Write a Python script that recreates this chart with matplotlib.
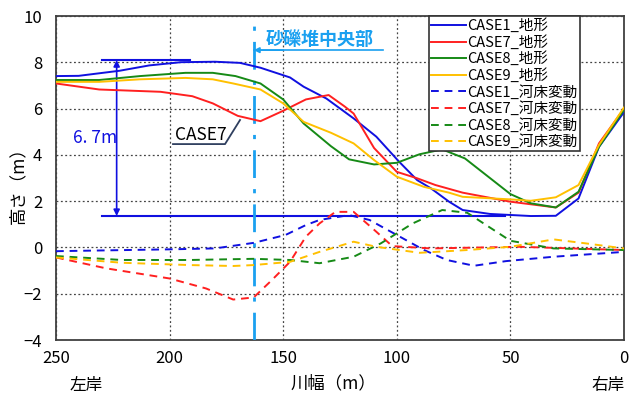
import matplotlib
matplotlib.use("Agg")
import matplotlib.pyplot as plt

plt.rcParams['font.family'] = ['Noto Sans CJK JP', 'DejaVu Sans']

# ---- data ----
c1_x = [250, 240, 222, 209, 195, 180, 169, 160, 147, 141, 131, 119, 109, 99, 91, 85, 77, 71, 59, 41, 30, 20, 11, 0]
c1_y = [7.41, 7.42, 7.64, 7.87, 8.01, 8.03, 7.98, 7.77, 7.35, 6.95, 6.44, 5.58, 4.79, 3.71, 2.91, 2.56, 1.98, 1.62, 1.45, 1.36, 1.37, 2.12, 4.35, 5.85]

c7_x = [250, 231, 204, 190, 181, 170, 160, 150, 140, 130, 123, 119, 110, 100, 91, 83, 71, 50, 30, 20, 11, 0]
c7_y = [7.09, 6.83, 6.73, 6.54, 6.23, 5.69, 5.46, 5.91, 6.40, 6.59, 6.10, 5.79, 4.30, 3.27, 2.99, 2.70, 2.37, 1.98, 1.73, 2.37, 4.50, 6.00]

c8_x = [250, 231, 213, 193, 181, 171, 160, 150, 141, 129, 121, 110, 100, 90, 80, 70, 50, 41, 30, 20, 11, 0]
c8_y = [7.24, 7.24, 7.41, 7.55, 7.55, 7.41, 7.09, 6.40, 5.36, 4.38, 3.81, 3.59, 3.66, 4.03, 4.24, 3.85, 2.31, 1.91, 1.73, 2.41, 4.35, 5.95]

c9_x = [250, 231, 213, 193, 181, 172, 160, 150, 141, 129, 119, 110, 100, 88, 77, 71, 50, 41, 30, 20, 11, 0]
c9_y = [7.16, 7.16, 7.27, 7.33, 7.27, 7.09, 6.83, 6.23, 5.43, 4.96, 4.50, 3.78, 3.06, 2.62, 2.37, 2.19, 2.08, 2.02, 2.17, 2.70, 4.43, 6.05]

d1_x = [250, 200, 180, 163, 149, 140, 134, 121, 112, 100, 88, 78, 66, 52, 31, 0]
d1_y = [-0.16, -0.08, -0.04, 0.20, 0.54, 0.97, 1.19, 1.40, 1.19, 0.54, -0.11, -0.54, -0.79, -0.59, -0.40, -0.19]

d7_x = [250, 228, 200, 184, 172, 163, 155, 147, 140, 134, 127, 119, 109, 102, 85, 46, 0]
d7_y = [-0.43, -0.90, -1.34, -1.77, -2.25, -2.16, -1.41, -0.62, 0.47, 1.04, 1.54, 1.54, 0.68, 0.06, -0.04, 0.03, -0.11]

d8_x = [250, 221, 191, 163, 147, 134, 119, 107, 93, 80, 69, 50, 31, 0]
d8_y = [-0.37, -0.54, -0.54, -0.49, -0.54, -0.68, -0.40, 0.18, 1.04, 1.62, 1.50, 0.29, -0.04, -0.11]

d9_x = [250, 221, 191, 172, 163, 147, 134, 119, 109, 90, 69, 50, 31, 17, 0]
d9_y = [-0.43, -0.66, -0.76, -0.80, -0.76, -0.62, -0.19, 0.25, 0.03, -0.23, -0.11, 0.03, 0.35, 0.18, -0.04]

labels_terrain = ['CASE1_地形', 'CASE7_地形', 'CASE8_地形', 'CASE9_地形']
labels_change = ['CASE1_河床変動', 'CASE7_河床変動', 'CASE8_河床変動', 'CASE9_河床変動']
colors = ['#1010E0', '#FF2020', '#168A16', '#FFC000']

x_ticks = [250, 200, 150, 100, 50, 0]
y_ticks = [-4, -2, 0, 2, 4, 6, 8, 10]
y_tick_labels = ['\u22124', '\u22122', '0', '2', '4', '6', '8', '10']

center_x = 163
top_ref = 8.1
bot_ref = 1.36

# ---- figure ----
fig = plt.figure(figsize=(6.32, 3.94), dpi=100)
ax = fig.add_axes([0.0886, 0.137, 0.8987, 0.822])

terrain = [(c1_x, c1_y), (c7_x, c7_y), (c8_x, c8_y), (c9_x, c9_y)]
change = [(d1_x, d1_y), (d7_x, d7_y), (d8_x, d8_y), (d9_x, d9_y)]

# reference lines (behind)
ax.plot([229.8, 191.0], [top_ref, top_ref], color='#1010E0', lw=1.5, zorder=2)
ax.plot([229.8, 52.4], [bot_ref, bot_ref], color='#1010E0', lw=1.5, zorder=2)
ax.annotate('', xy=(223.3, top_ref), xytext=(223.3, bot_ref),
            arrowprops=dict(arrowstyle='<|-|>', color='#1010E0', lw=1.2,
                            mutation_scale=9, shrinkA=0, shrinkB=0), zorder=3)
ax.text(223.0, 4.75, '6. 7m', color='#1010E0', fontsize=12.5, ha='right', va='center')

handles = []
for (xs, ys), c, lab in zip(terrain, colors, labels_terrain):
    h, = ax.plot(xs, ys, color=c, lw=1.4, label=lab, zorder=4)
    handles.append(h)
for (xs, ys), c, lab in zip(change, colors, labels_change):
    h, = ax.plot(xs, ys, color=c, lw=1.4, ls=(0, (4, 3)), label=lab, zorder=4)
    handles.append(h)

# centre dash-dot line
ax.axvline(center_x, color='#1AA0F0', lw=2.0, ls=(0, (10, 4, 1.5, 4)), zorder=3)
ax.annotate('', xy=(center_x, 8.53), xytext=(150, 8.53),
            arrowprops=dict(arrowstyle='-|>', color='#1AA0F0', lw=1.2,
                            mutation_scale=8, shrinkA=0, shrinkB=0), zorder=5)
ax.plot([center_x, 106], [8.53, 8.53], color='#1AA0F0', lw=1.2, zorder=5)
ax.text(157.5, 9.0, '砂礫堆中央部', color='#1AA0F0', fontsize=13, fontweight='bold',
        ha='left', va='center', zorder=5)

# CASE7 label
ax.text(197.8, 4.88, 'CASE7', color='black', fontsize=12.5, ha='left', va='center', zorder=5)
ax.plot([198.5, 175.6, 169.0], [4.47, 4.47, 5.51], color='#2F3F5F', lw=1.3, zorder=5)

ax.set_xlim(250, 0)
ax.set_ylim(-4, 10)
ax.set_xticks(x_ticks)
ax.set_yticks(y_ticks)
ax.set_yticklabels(y_tick_labels)
ax.tick_params(length=0, labelsize=12, pad=7)
ax.tick_params(axis='y', pad=10)
ax.grid(True, color='#444444', ls=(0, (1.5, 2)), lw=0.9)
for s in ax.spines.values():
    s.set_color('#404040')
    s.set_linewidth(1.3)

ax.set_xlabel('川幅（m）', fontsize=12.5)
ax.set_ylabel('高さ（m）', fontsize=12.5)
ax.xaxis.set_label_coords(0.488, -0.105)
ax.yaxis.set_label_coords(-0.05, 0.49)

fig.text(0.136, 0.0, '左岸', fontsize=12, ha='center', va='bottom')
fig.text(0.963, 0.0, '右岸', fontsize=12, ha='center', va='bottom')

leg = ax.legend(handles=handles, loc='upper left', bbox_to_anchor=(0.656, 1.0),
                fontsize=10.5, frameon=True, fancybox=False, edgecolor='#333333',
                framealpha=1, handlelength=2.4, handletextpad=0.1,
                labelspacing=0.12, borderpad=0.15, borderaxespad=0)
leg.get_frame().set_linewidth(1.2)

fig.savefig('out.png', dpi=100)
